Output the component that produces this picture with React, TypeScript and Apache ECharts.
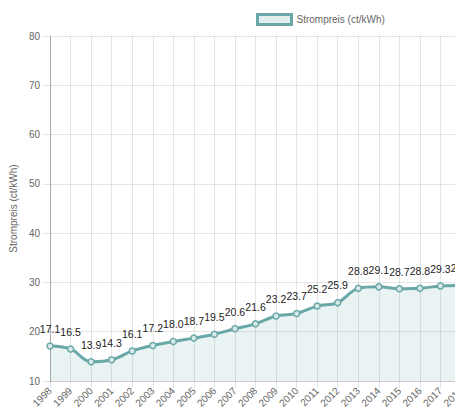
import { useEffect, useRef } from 'react'
import * as echarts from 'echarts'

const years = [
  '1998', '1999', '2000', '2001', '2002', '2003', '2004', '2005', '2006', '2007',
  '2008', '2009', '2010', '2011', '2012', '2013', '2014', '2015', '2016', '2017', '2018',
]
const prices = [
  17.1, 16.5, 13.9, 14.3, 16.1, 17.2, 18.0, 18.7, 19.5, 20.6,
  21.6, 23.2, 23.7, 25.2, 25.9, 28.8, 29.1, 28.7, 28.8, 29.3, 29.4,
]
const seriesName = 'Strompreis (ct/kWh)'
const yAxisName = 'Strompreis (ct/kWh)'

const FONT = 'Liberation Sans, Arial, sans-serif'
const LINE = '#6aa8a8'
const FILL = 'rgba(106,168,168,0.2)'
const GRID = 'rgba(0,0,0,0.1)'

export default function App() {
  const chartRef = useRef<HTMLDivElement>(null)

  useEffect(() => {
    if (!chartRef.current) return
    const chart = echarts.init(chartRef.current, undefined, { renderer: 'svg' })

    chart.setOption({
      animation: false,
      textStyle: { fontFamily: FONT },
      legend: {
        left: 251,
        top: 8,
        icon: 'rect',
        itemWidth: 34,
        itemHeight: 10,
        textStyle: { color: '#666', fontSize: 10, fontFamily: FONT },
        data: [
          {
            name: seriesName,
            itemStyle: { color: '#e3efef', borderColor: LINE, borderWidth: 3 },
          },
        ],
      },
      grid: { left: 49, top: 36, width: 412, height: 345, containLabel: false },
      xAxis: {
        type: 'category',
        data: years,
        boundaryGap: false,
        axisLine: { lineStyle: { color: GRID } },
        axisTick: { show: true, length: 7, lineStyle: { color: GRID } },
        axisLabel: { rotate: 45, interval: 0, color: '#666', fontSize: 10, margin: 8 },
        splitLine: { show: true, interval: 0, lineStyle: { color: GRID } },
      },
      yAxis: {
        type: 'value',
        min: 10,
        max: 80,
        interval: 10,
        name: yAxisName,
        nameLocation: 'middle',
        nameGap: 27,
        nameTextStyle: { color: '#666', fontSize: 10 },
        axisLine: { show: true, lineStyle: { color: 'rgba(0,0,0,0.25)' } },
        axisTick: { show: true, length: 7, lineStyle: { color: GRID } },
        axisLabel: { color: '#666', fontSize: 10, margin: 10 },
        splitLine: { lineStyle: { color: GRID } },
      },
      series: [
        {
          name: seriesName,
          type: 'line',
          data: prices,
          smooth: 0.35,
          symbol: 'circle',
          symbolSize: 6,
          lineStyle: { color: LINE, width: 3 },
          itemStyle: { color: '#d9e9e9', borderColor: LINE, borderWidth: 1.5 },
          areaStyle: { color: FILL },
          label: {
            show: true,
            position: 'top',
            distance: 8,
            color: '#222',
            fontSize: 10.5,
            formatter: (p: any) => Number(p.value).toFixed(1),
          },
        },
      ],
    })

    return () => {
      chart.dispose()
    }
  }, [])

  return (
    <div style={{ position: 'fixed', left: 0, top: 0, width: 455, height: 419, overflow: 'hidden', background: '#fff' }}>
      <div ref={chartRef} style={{ width: 480, height: 419 }}></div>
    </div>
  )
}
